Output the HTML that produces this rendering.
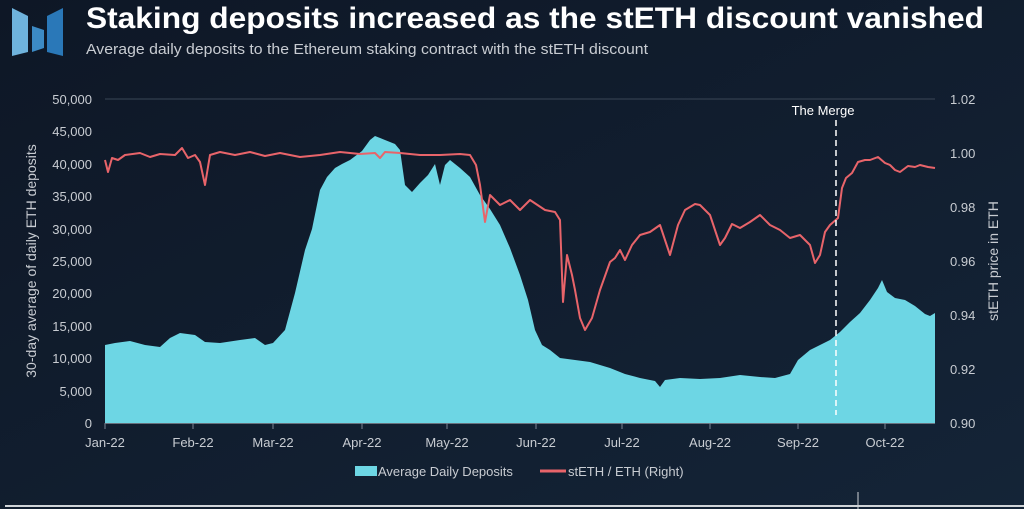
<!DOCTYPE html>
<html><head><meta charset="utf-8"><style>
html,body{margin:0;padding:0;background:#0f1a2a;}
body{width:1024px;height:509px;overflow:hidden;position:relative;font-family:"Liberation Sans",sans-serif;}
</style></head><body>
<svg width="1024" height="509" viewBox="0 0 1024 509" xmlns="http://www.w3.org/2000/svg" style="position:absolute;left:0;top:0">
<defs><linearGradient id="bg" x1="0" y1="0" x2="1" y2="1"><stop offset="0" stop-color="#0e1726"/><stop offset="1" stop-color="#142437"/></linearGradient></defs>
<rect width="1024" height="509" fill="url(#bg)"/>
<polygon points="12,8 28,16 28,52 12,56" fill="#6fb3dc"/>
<polygon points="32,26 44,30 44,48 32,52" fill="#3c8ac4"/>
<polygon points="47,16 63,8 63,56 47,52" fill="#2a78b8"/>
<text x="86" y="28" font-size="30" font-weight="bold" fill="#ffffff" textLength="898" lengthAdjust="spacingAndGlyphs">Staking deposits increased as the stETH discount vanished</text>
<text x="86" y="54" font-size="15" fill="#c8ccd2" textLength="562" lengthAdjust="spacingAndGlyphs">Average daily deposits to the Ethereum staking contract with the stETH discount</text>
<line x1="105" y1="99" x2="935" y2="99" stroke="#3a4656" stroke-width="1"/>
<line x1="105" y1="423" x2="935" y2="423" stroke="#c0c4ca" stroke-width="1"/>
<g font-size="13" fill="#c8ccd2" text-anchor="end">
<text x="92" y="104">50,000</text><text x="92" y="136">45,000</text><text x="92" y="169">40,000</text><text x="92" y="201">35,000</text><text x="92" y="234">30,000</text><text x="92" y="266">25,000</text><text x="92" y="298">20,000</text><text x="92" y="331">15,000</text><text x="92" y="363">10,000</text><text x="92" y="396">5,000</text><text x="92" y="428">0</text>
</g>
<g font-size="13" fill="#c8ccd2">
<text x="950" y="104">1.02</text><text x="950" y="158">1.00</text><text x="950" y="212">0.98</text><text x="950" y="266">0.96</text><text x="950" y="320">0.94</text><text x="950" y="374">0.92</text><text x="950" y="428">0.90</text>
</g>
<text transform="translate(36,261) rotate(-90)" font-size="14" fill="#c8ccd2" text-anchor="middle">30-day average of daily ETH deposits</text>
<text transform="translate(998,261) rotate(-90)" font-size="14" fill="#c8ccd2" text-anchor="middle">stETH price in ETH</text>
<polygon fill="#6dd6e4" points="105,423 105,345 115,343 130,341 145,345 160,347 170,338 180,333 195,335 205,342 220,343 240,340 255,338 265,345 273,343 285,330 295,293 305,250 312,229 320,190 327,177 335,168 342,164 350,160 362,151 370,140 375,136 385,140 395,144 400,150 405,185 412,192 420,183 428,175 435,164 440,185 445,165 450,160 460,168 470,177 480,195 490,209 500,225 510,248 520,275 528,300 535,330 542,345 550,350 560,358 575,360 590,362 610,368 625,374 640,378 655,381 660,387 665,380 680,378 700,379 720,378 740,375 760,377 775,378 790,374 798,360 810,350 820,345 830,340 840,332 850,322 860,313 870,300 878,288 882,280 887,292 895,298 905,300 915,306 925,314 930,316 935,313 935,423"/>
<g stroke="#7a8594" stroke-width="1">
<line x1="105" y1="423" x2="105" y2="429"/><line x1="193" y1="423" x2="193" y2="429"/><line x1="273" y1="423" x2="273" y2="429"/><line x1="362" y1="423" x2="362" y2="429"/><line x1="447" y1="423" x2="447" y2="429"/><line x1="536" y1="423" x2="536" y2="429"/><line x1="622" y1="423" x2="622" y2="429"/><line x1="710" y1="423" x2="710" y2="429"/><line x1="798" y1="423" x2="798" y2="429"/><line x1="885" y1="423" x2="885" y2="429"/>
</g>
<polyline fill="none" stroke="#e8646a" stroke-width="2" stroke-linejoin="round" points="105,160 108,172 112,158 118,160 125,155 140,153 150,157 160,154 175,155 182,148 188,158 195,155 200,162 205,185 210,155 220,152 235,155 250,152 265,156 280,153 300,157 320,155 340,152 360,154 375,153 380,158 385,152 400,153 420,155 440,155 460,154 470,155 476,165 480,185 485,222 490,195 500,205 510,200 520,210 530,200 545,210 555,212 560,220 563,302 567,255 572,275 575,290 580,318 585,330 592,318 600,290 610,262 615,258 620,250 625,260 632,245 640,235 650,232 660,225 665,240 670,255 678,225 685,210 695,204 700,205 705,210 710,215 715,230 720,245 725,238 732,224 740,228 750,222 760,215 770,225 780,230 790,238 800,235 810,245 815,263 820,255 825,232 830,225 838,218 842,188 846,178 852,173 858,162 865,160 870,160 878,157 885,163 890,165 895,170 900,172 908,166 915,167 920,165 928,167 935,168"/>
<line x1="836" y1="120" x2="836" y2="415" stroke="#ffffff" stroke-width="1.5" stroke-dasharray="6,4"/>
<text x="823" y="115" font-size="13" fill="#ffffff" text-anchor="middle">The Merge</text>
<g font-size="13" fill="#c8ccd2" text-anchor="middle">
<text x="105" y="447">Jan-22</text><text x="193" y="447">Feb-22</text><text x="273" y="447">Mar-22</text><text x="362" y="447">Apr-22</text><text x="447" y="447">May-22</text><text x="536" y="447">Jun-22</text><text x="622" y="447">Jul-22</text><text x="710" y="447">Aug-22</text><text x="798" y="447">Sep-22</text><text x="885" y="447">Oct-22</text>
</g>
<rect x="355" y="466" width="22" height="10" fill="#6dd6e4"/>
<text x="378" y="476" font-size="13" fill="#c8ccd2">Average Daily Deposits</text>
<line x1="540" y1="471" x2="566" y2="471" stroke="#e8646a" stroke-width="3"/>
<text x="568" y="476" font-size="13" fill="#c8ccd2">stETH / ETH (Right)</text>
<line x1="5" y1="506" x2="1024" y2="506" stroke="#d0d4d8" stroke-width="2"/>
<line x1="858" y1="492" x2="858" y2="509" stroke="#d0d4d8" stroke-width="1"/>
</svg>
</body></html>
